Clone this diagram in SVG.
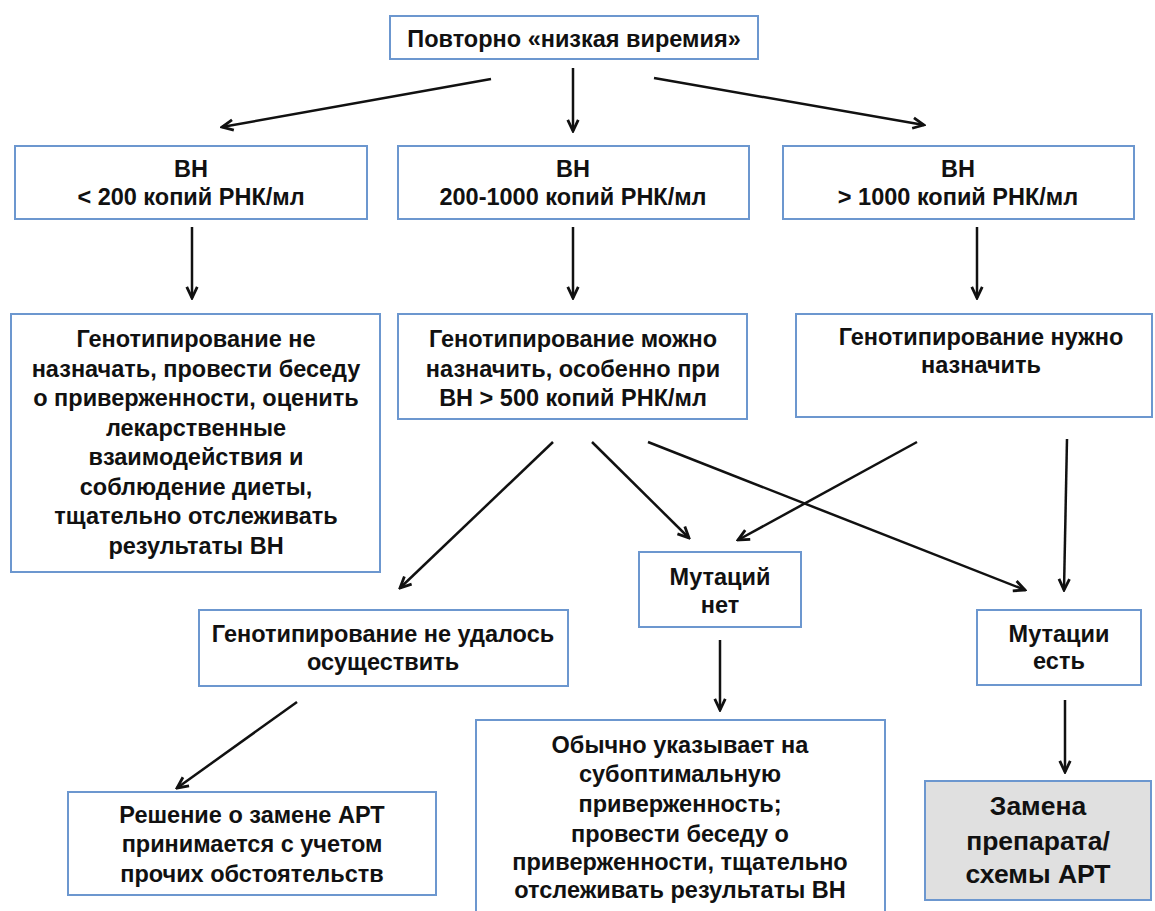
<svg xmlns="http://www.w3.org/2000/svg" width="1155" height="911" viewBox="0 0 1155 911">
<defs>
<style>
.box{fill:#ffffff;stroke:#6c97cf;stroke-width:2}
.grey{fill:#e0e0e0;stroke:#6c97cf;stroke-width:2}
.t{font-family:"Liberation Sans",Arial,sans-serif;font-weight:bold;font-size:23.5px;fill:#111;text-anchor:middle}
.big{font-size:26.5px}
.c{stroke:#111;stroke-width:2.5;fill:none;marker-end:url(#ah)}
</style>
<marker id="ah" viewBox="0 0 12 12" refX="10.5" refY="6" markerWidth="14" markerHeight="14" markerUnits="userSpaceOnUse" orient="auto">
<path d="M1,1.5 L10.5,6 L1,10.5" fill="none" stroke="#111" stroke-width="2.4"/>
</marker>
</defs>
<rect width="1155" height="911" fill="#ffffff"/>

<g id="connectors">
<line class="c" x1="491" y1="79" x2="222" y2="127"/>
<line class="c" x1="573" y1="68" x2="573" y2="131"/>
<line class="c" x1="654" y1="78" x2="924" y2="125"/>
<line class="c" x1="192" y1="227" x2="192" y2="298"/>
<line class="c" x1="573" y1="227" x2="573" y2="298"/>
<line class="c" x1="977" y1="227" x2="977" y2="298"/>
<line class="c" x1="553" y1="442" x2="400" y2="588"/>
<line class="c" x1="592" y1="442" x2="689" y2="538"/>
<line class="c" x1="648" y1="442" x2="1025" y2="590"/>
<line class="c" x1="917" y1="442" x2="738" y2="540"/>
<line class="c" x1="1067" y1="439" x2="1064" y2="590"/>
<line class="c" x1="297" y1="702" x2="177" y2="788"/>
<line class="c" x1="720" y1="640" x2="720" y2="710"/>
<line class="c" x1="1065" y1="700" x2="1065" y2="772"/>
</g>

<g id="n-top">
<rect class="box" x="390" y="16" width="368" height="43"/>
<text class="t" x="574" y="47">Повторно «низкая виремия»</text>
</g>
<g id="n-vl">
<rect class="box" x="15" y="146" width="352" height="73"/>
<text class="t" x="191" y="177">ВН</text>
<text class="t" x="191" y="205">&lt; 200 копий РНК/мл</text>
</g>
<g id="n-vm">
<rect class="box" x="398" y="146" width="351" height="73"/>
<text class="t" x="573" y="177">ВН</text>
<text class="t" x="573" y="205">200-1000 копий РНК/мл</text>
</g>
<g id="n-vr">
<rect class="box" x="783" y="146" width="351" height="73"/>
<text class="t" x="958" y="177">ВН</text>
<text class="t" x="958" y="205">&gt; 1000 копий РНК/мл</text>
</g>
<g id="n-gl">
<rect class="box" x="11" y="314" width="369" height="258"/>
<text class="t" x="196" y="347">Генотипирование не</text>
<text class="t" x="196" y="376.5">назначать, провести беседу</text>
<text class="t" x="196" y="406">о приверженности, оценить</text>
<text class="t" x="196" y="435.5">лекарственные</text>
<text class="t" x="196" y="465">взаимодействия и</text>
<text class="t" x="196" y="494.5">соблюдение диеты,</text>
<text class="t" x="196" y="524">тщательно отслеживать</text>
<text class="t" x="196" y="553.5">результаты ВН</text>
</g>
<g id="n-gm">
<rect class="box" x="398" y="314" width="349" height="105"/>
<text class="t" x="573" y="347">Генотипирование можно</text>
<text class="t" x="573" y="376.5">назначить, особенно при</text>
<text class="t" x="573" y="406">ВН &gt; 500 копий РНК/мл</text>
</g>
<g id="n-gr">
<rect class="box" x="796" y="314" width="356" height="103"/>
<text class="t" x="981" y="345">Генотипирование нужно</text>
<text class="t" x="981" y="373">назначить</text>
</g>
<g id="n-fail">
<rect class="box" x="199" y="610" width="369" height="76"/>
<text class="t" x="383" y="642">Генотипирование не удалось</text>
<text class="t" x="383" y="670">осуществить</text>
</g>
<g id="n-nomut">
<rect class="box" x="639" y="552" width="162" height="75"/>
<text class="t" x="720" y="585">Мутаций</text>
<text class="t" x="720" y="613">нет</text>
</g>
<g id="n-mut">
<rect class="box" x="977" y="610" width="164" height="75"/>
<text class="t" x="1059" y="642">Мутации</text>
<text class="t" x="1059" y="669">есть</text>
</g>
<g id="n-decision">
<rect class="box" x="68" y="792" width="368" height="103"/>
<text class="t" x="252" y="823">Решение о замене АРТ</text>
<text class="t" x="252" y="852">принимается с учетом</text>
<text class="t" x="252" y="882">прочих обстоятельств</text>
</g>
<g id="n-usually">
<rect class="box" x="476" y="720" width="409" height="200"/>
<text class="t" x="680" y="753">Обычно указывает на</text>
<text class="t" x="680" y="782">субоптимальную</text>
<text class="t" x="680" y="812">приверженность;</text>
<text class="t" x="680" y="842">провести беседу о</text>
<text class="t" x="680" y="870">приверженности, тщательно</text>
<text class="t" x="680" y="898">отслеживать результаты ВН</text>
</g>
<g id="n-switch">
<rect class="grey" x="925" y="781" width="226" height="119"/>
<text class="t big" x="1038" y="815">Замена</text>
<text class="t big" x="1038" y="850">препарата/</text>
<text class="t big" x="1038" y="883">схемы АРТ</text>
</g>
</svg>
